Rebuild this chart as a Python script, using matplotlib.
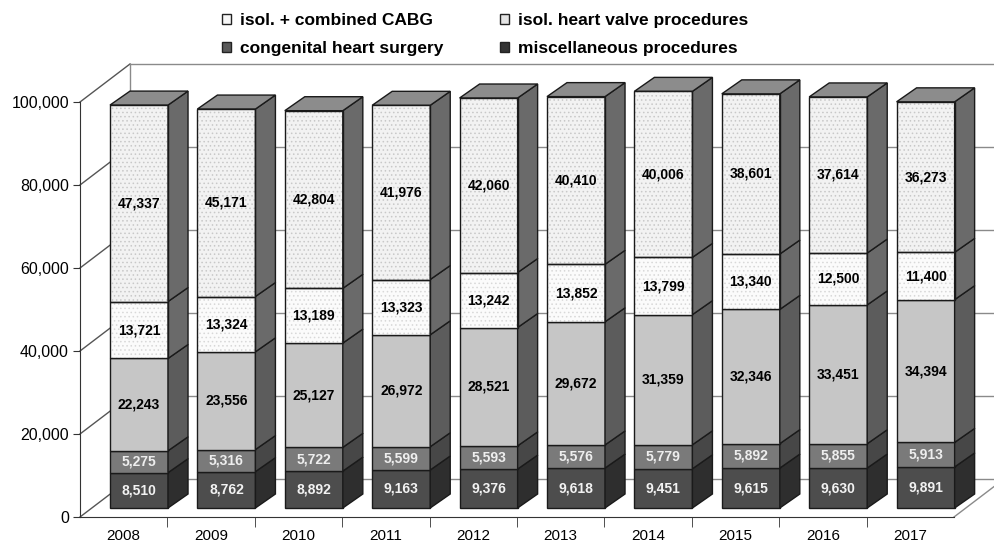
import matplotlib.pyplot as plt
import matplotlib.patches as mpatches
import numpy as np

plt.rcParams['font.family'] = ['Liberation Sans', 'DejaVu Sans']
plt.rcParams['hatch.linewidth'] = 0.6

years = ['2008', '2009', '2010', '2011', '2012', '2013', '2014', '2015', '2016', '2017']
misc = [8510, 8762, 8892, 9163, 9376, 9618, 9451, 9615, 9630, 9891]
congenital = [5275, 5316, 5722, 5599, 5593, 5576, 5779, 5892, 5855, 5913]
valve = [22243, 23556, 25127, 26972, 28521, 29672, 31359, 32346, 33451, 34394]
cabg_combined = [13721, 13324, 13189, 13323, 13242, 13852, 13799, 13340, 12500, 11400]
cabg_isol = [47337, 45171, 42804, 41976, 42060, 40410, 40006, 38601, 37614, 36273]

series = [misc, congenital, valve, cabg_combined, cabg_isol]
front_col = ['#4d4d4d', '#7a7a7a', '#c6c6c6', '#fbfbfb', '#f2f2f2']
side_col = ['#2e2e2e', '#474747', '#5c5c5c', '#6a6a6a', '#6a6a6a']
hatch_col = [None, None, None, '#d8d8d8', '#c8c8c8']
text_col = ['#f2f2f2', '#eeeeee', 'black', 'black', 'black']
top_col = '#8c8c8c'

# 3d look, in data units
bar_w = 0.664
bar_dx, bar_dy = 0.229, 3370      # depth of a bar
shift_x, shift_y = 0.175, 2170    # bars sit a little back on the floor
wall_dx, wall_dy = 0.572, 9160    # depth of the floor / side wall

fig = plt.figure(figsize=(9.95, 5.48), dpi=100)
ax = fig.add_axes([80 / 995, 31 / 548, 874 / 995, 415 / 548])
ax.set_xlim(0, 10)
ax.set_ylim(0, 100000)

# back wall grid, side wall and floor
levels = np.arange(0, 100001, 20000)
for v in levels:
    ax.plot([wall_dx, 10.6], [v + wall_dy, v + wall_dy], color='#8a8a8a', lw=1, clip_on=False, zorder=1)
    ax.plot([0, wall_dx], [v, v + wall_dy], color='#555555', lw=1, clip_on=False, zorder=1)
ax.plot([wall_dx, wall_dx], [wall_dy, 100000 + wall_dy], color='#8a8a8a', lw=1, clip_on=False, zorder=1)
ax.plot([10, 10 + wall_dx], [0, wall_dy], color='#8a8a8a', lw=1, clip_on=False, zorder=1)

# bars
for i in range(len(years)):
    x0 = i + 0.5 - bar_w / 2 + shift_x
    x1 = x0 + bar_w
    base = shift_y
    for k, s in enumerate(series):
        v = s[i]
        top = base + v
        if hatch_col[k]:
            ax.fill([x0, x1, x1, x0], [base, base, top, top], facecolor=front_col[k],
                    edgecolor=hatch_col[k], hatch='....', lw=0, zorder=3, clip_on=False)
            ax.fill([x0, x1, x1, x0], [base, base, top, top], fill=False,
                    edgecolor='#1a1a1a', lw=1, zorder=4, clip_on=False)
        else:
            ax.fill([x0, x1, x1, x0], [base, base, top, top], facecolor=front_col[k],
                    edgecolor='#1a1a1a', lw=1, zorder=3, clip_on=False)
        ax.fill([x1, x1 + bar_dx, x1 + bar_dx, x1], [base, base + bar_dy, top + bar_dy, top],
                facecolor=side_col[k], edgecolor='#1a1a1a', lw=1, zorder=3, clip_on=False)
        ax.text((x0 + x1) / 2, (base + top) / 2, f'{v:,}', ha='center', va='center',
                fontsize=10, fontweight='bold', color=text_col[k], zorder=5)
        base = top
    ax.fill([x0, x1, x1 + bar_dx, x0 + bar_dx], [base, base, base + bar_dy, base + bar_dy],
            facecolor=top_col, edgecolor='#1a1a1a', lw=1, zorder=3, clip_on=False)

# axes
for side in ['top', 'right']:
    ax.spines[side].set_visible(False)
ax.spines['left'].set_color('#333333')
ax.spines['bottom'].set_color('#333333')
ax.set_yticks(levels)
ax.set_yticklabels([f'{v:,}' for v in levels], fontsize=11.5)
ax.tick_params(axis='y', length=5, color='#333333', pad=3)
ax.set_xticks(np.arange(len(years)) + 0.5)
ax.set_xticklabels(years, fontsize=11)
ax.set_xticks(np.arange(1, 10), minor=True)
ax.tick_params(axis='x', which='major', length=0, pad=9)
ax.tick_params(axis='x', which='minor', length=7, color='#333333')

handles = [
    mpatches.Patch(facecolor='#f7f7f7', edgecolor='#222222', label='isol. + combined CABG'),
    mpatches.Patch(facecolor='#5a5a5a', edgecolor='#222222', label='congenital heart surgery'),
    mpatches.Patch(facecolor='#e4e4e4', edgecolor='#222222', label='isol. heart valve procedures'),
    mpatches.Patch(facecolor='#333333', edgecolor='#222222', label='miscellaneous procedures'),
]
fig.legend(handles=handles, ncol=2, loc='center', bbox_to_anchor=(485 / 995, 1 - 34.5 / 548),
           frameon=False, prop={'weight': 'bold', 'size': 12.5}, handlelength=0.5,
           handleheight=0.5, handletextpad=0.5, columnspacing=3.3, labelspacing=0.72)

fig.savefig('out.png', dpi=100)
